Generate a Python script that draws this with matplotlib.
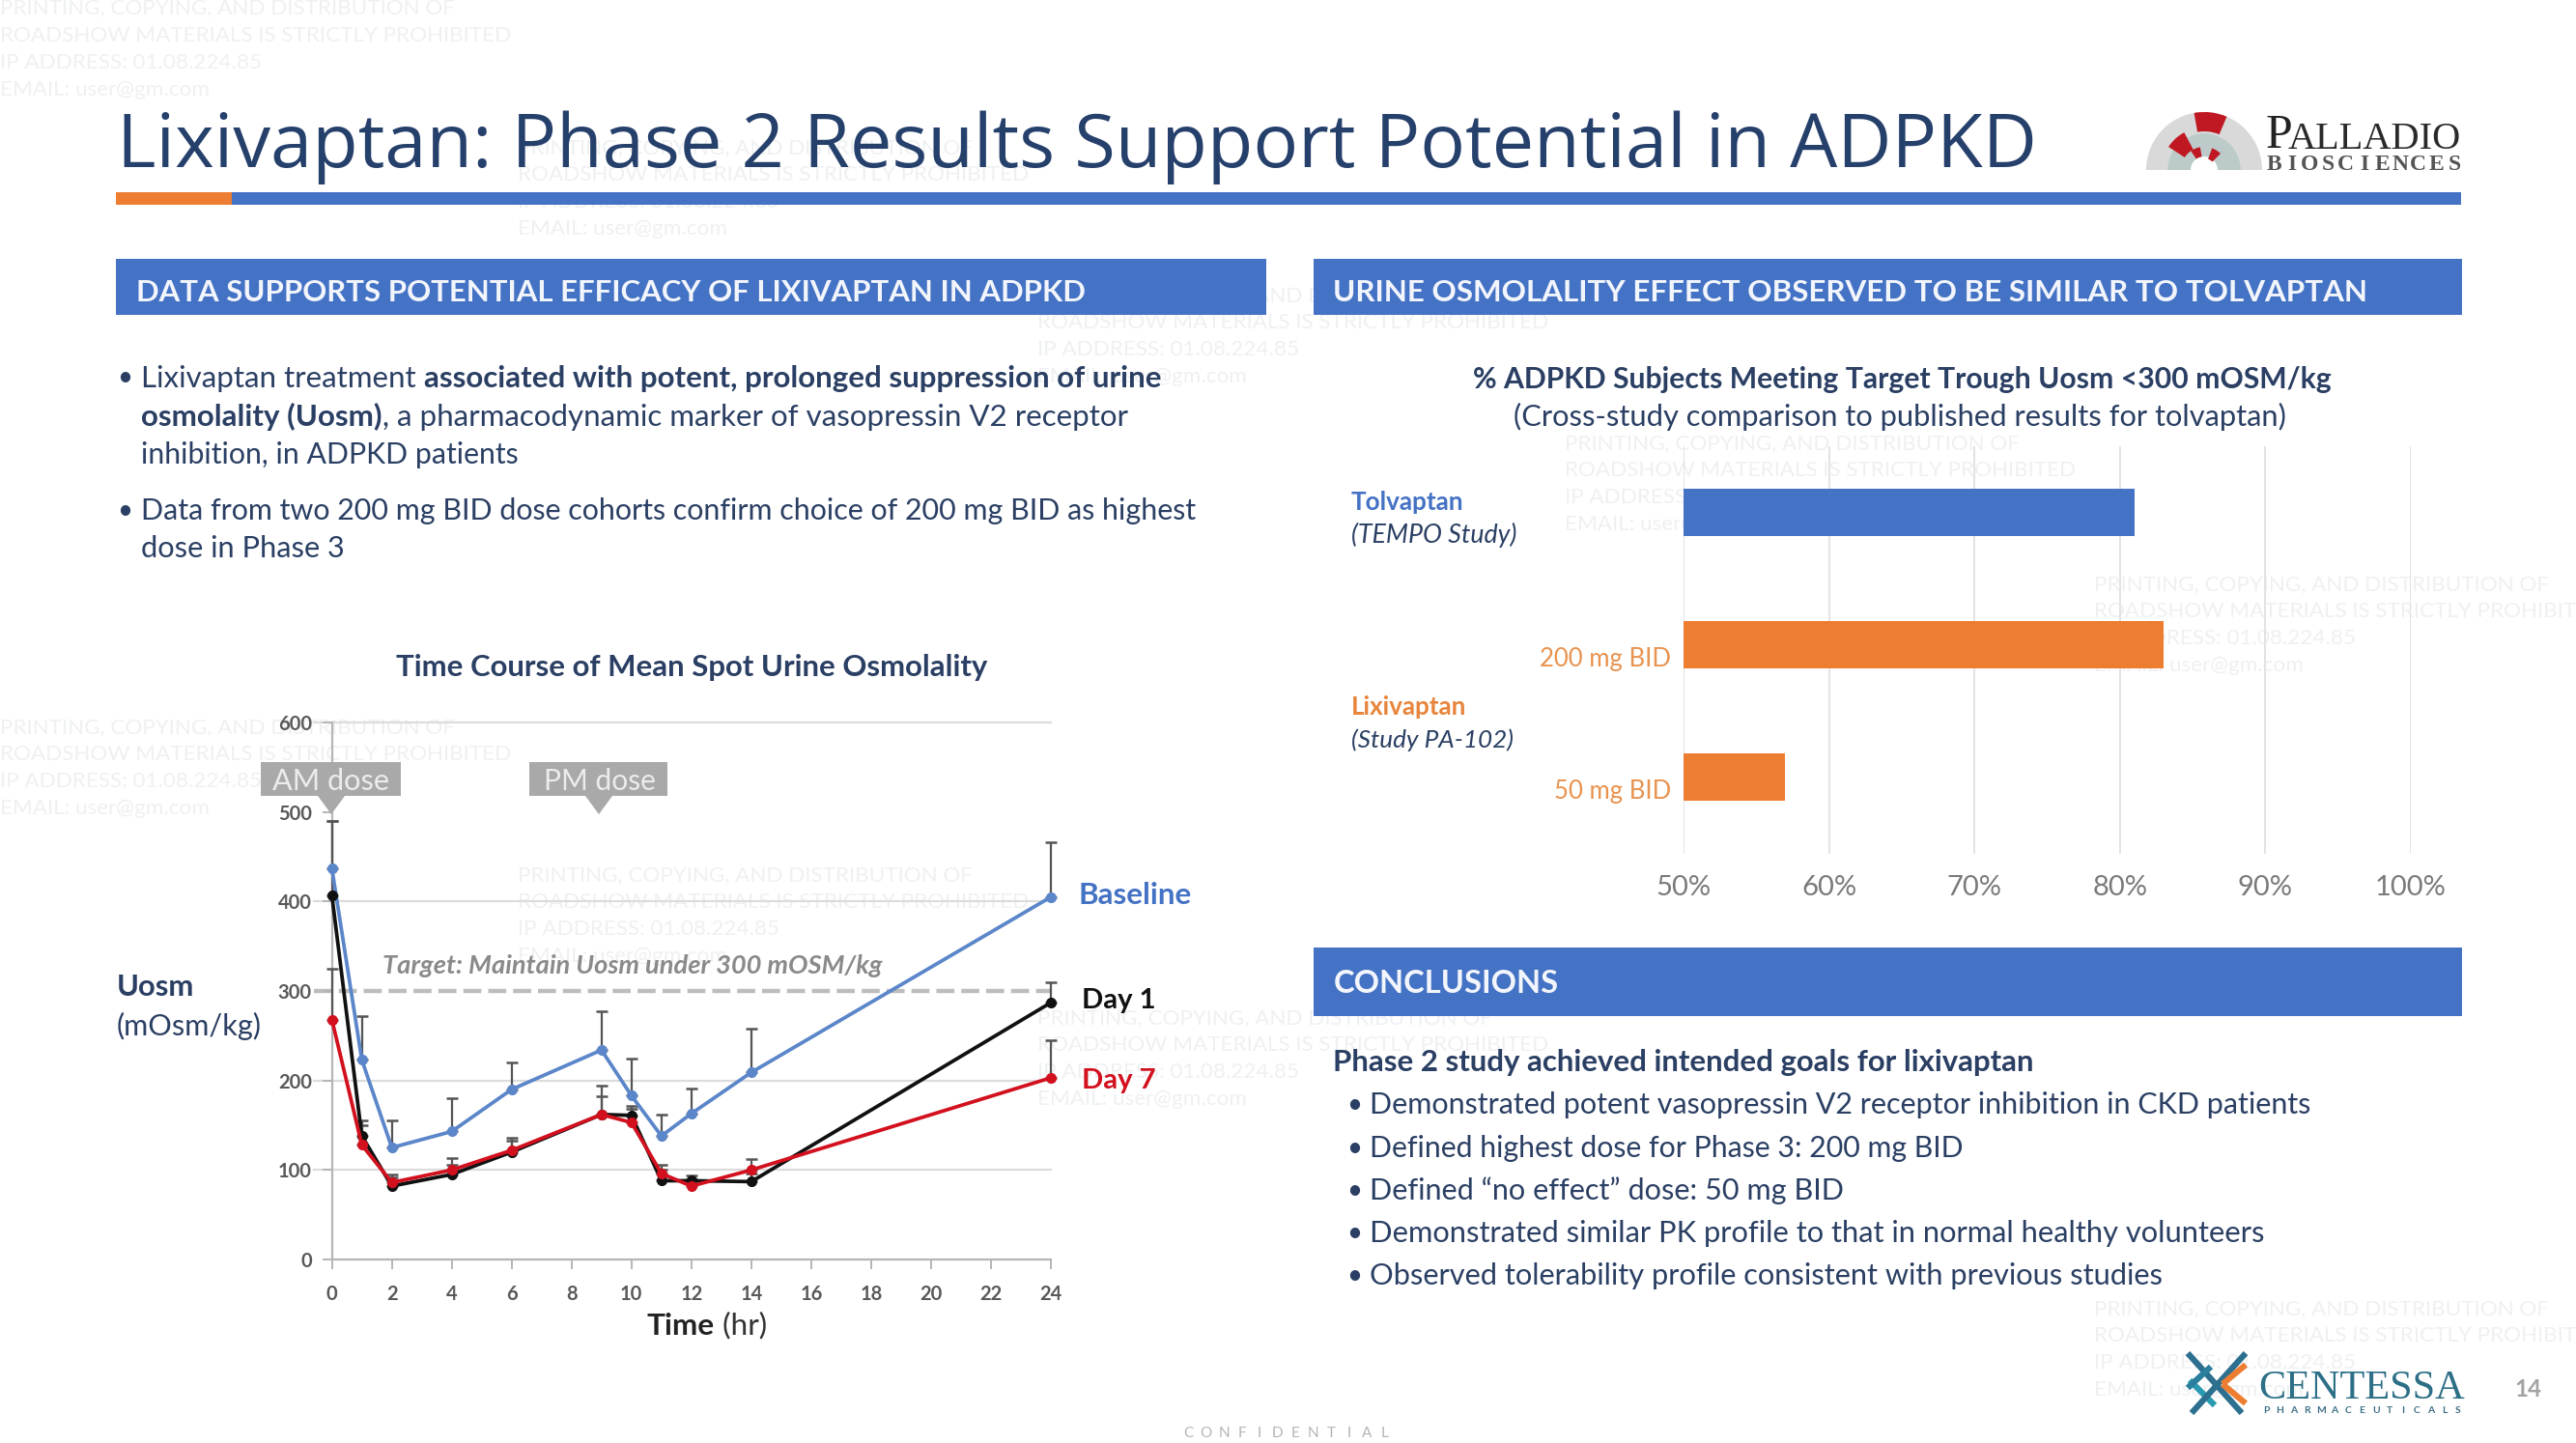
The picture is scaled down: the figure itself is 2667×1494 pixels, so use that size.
import matplotlib
matplotlib.use('Agg')
import matplotlib.pyplot as plt
from matplotlib.patches import Rectangle, Polygon, Wedge
from matplotlib.transforms import ScaledTranslation

# ---------- data ----------
hours = [0, 1, 2, 4, 6, 9, 10, 11, 12, 14, 24]
baseline = [437, 223, 125, 143, 190, 234, 183, 138, 163, 209, 405]
baseline_upper = [490, 272, 155, 180, 220, 277, 225, 162, 191, 258, 466]
day1 = [407, 138, 82, 95, 120, 162, 161, 88, 88, 87, 287]
day1_upper = [490, 155, 92, 106, 136, 182, 172, 100, 94, 96, 310]
day7 = [268, 128, 86, 100, 122, 162, 153, 96, 82, 100, 203]
day7_upper = [325, 150, 95, 113, 133, 194, 168, 106, 90, 112, 245]
hour_ticks = list(range(0, 25, 2))
uosm_ticks = [0, 100, 200, 300, 400, 500, 600]
uosm_grid = [100, 200, 400, 600]
target_uosm = 300

bar_labels = ['', '200 mg BID', '50 mg BID']
bar_values = [81, 83, 57]
pct_ticks = [50, 60, 70, 80, 90, 100]

W, H = 2667, 1494
NAVY = '#2a3f63'
BLUE = '#4472c4'
ORANGE = '#ed7d31'
RED = '#d2101e'
BODY = 'Lato'

fig = plt.figure(figsize=(W / 100, H / 100), dpi=100, facecolor='white')
bg = fig.add_axes([0, 0, 1, 1], zorder=0)
bg.set_xlim(0, W)
bg.set_ylim(H, 0)
bg.axis('off')
top = fig.add_axes([0, 0, 1, 1], zorder=3)
top.set_xlim(0, W)
top.set_ylim(H, 0)
top.axis('off')
renderer = fig.canvas.get_renderer()


def adv(s, **kw):
    t = bg.text(0, 0, s + '.', **kw)
    a = t.get_window_extent(renderer).width
    t.set_text('.')
    b = t.get_window_extent(renderer).width
    t.remove()
    return a - b


def line(x, y, runs, x_end=None, size=20, color=NAVY, family=BODY, ax=bg):
    """Draw text runs (text, weight, style[, colour]); y is the vertical middle of the letters."""
    runs = [r if len(r) == 4 else (r[0], r[1], r[2], color) for r in runs]
    if x_end is not None:
        total = sum(adv(r[0], fontsize=size, fontweight=r[1], fontstyle=r[2], family=family) for r in runs)
        size = size * (x_end - x) / total
    base = y + 0.36 * size * 100 / 72
    cur = x
    for s, w, st, c in runs:
        ax.text(cur, base, s, fontsize=size, fontweight=w, fontstyle=st, color=c, family=family,
                va='baseline', ha='left')
        cur += adv(s, fontsize=size, fontweight=w, fontstyle=st, family=family)
    return size


def P(v):
    return v * 1.7


# ---------- watermarks ----------
wm_lines = ['PRINTING, COPYING, AND DISTRIBUTION OF',
            'ROADSHOW MATERIALS IS STRICTLY PROHIBITED',
            'IP ADDRESS: 01.08.224.85',
            'EMAIL: user@gm.com']
for wx, wy in [(0, 5), (315, 90), (0, 443), (315, 533), (953, 270), (1275, 356), (1275, 797), (632, 180), (632, 620)]:
    for i, s in enumerate(wm_lines):
        bg.text(P(wx), P(wy + i * 16.5), s, fontsize=16.2, color='#eff0f2', family='Lato', va='center', ha='left',
                zorder=0.5)

# ---------- title and headers ----------
line(P(71), 145, [('Lixivaptan: Phase 2 Results Support Potential in ADPKD', 'normal', 'normal')],
     x_end=2108, size=56, color='#26406c', family='Open Sans')
bg.add_patch(Rectangle((120, 199), 120, 13, color=ORANGE, lw=0))
bg.add_patch(Rectangle((240, 199), 2308, 13, color=BLUE, lw=0))
bg.add_patch(Rectangle((120, 268), P(771) - 120, 58, color=BLUE, lw=0))
bg.add_patch(Rectangle((P(800), 268), P(1499.5) - P(800), 58, color=BLUE, lw=0))
bg.add_patch(Rectangle((P(800), P(577)), P(1499.5) - P(800), P(42), color=BLUE, lw=0))
line(P(83), P(177), [('DATA SUPPORTS POTENTIAL EFFICACY OF LIXIVAPTAN IN ADPKD', 'bold', 'normal')],
     x_end=P(660), size=24, color='#f2f5fb')
line(P(812), P(177), [('URINE OSMOLALITY EFFECT OBSERVED TO BE SIMILAR TO TOLVAPTAN', 'bold', 'normal')],
     x_end=P(1442), size=24, color='#f2f5fb')
line(P(812), P(598), [('CONCLUSIONS', 'bold', 'normal')], x_end=P(949), size=24, color='#f2f5fb')

# ---------- left text ----------
for by in (229, 310):
    line(P(71.5), P(by), [('•', 'normal', 'normal')], size=20)
body_runs = [
    (229, [('Lixivaptan treatment ', 'normal', 'normal'), ('associated with potent, prolonged suppression of urine', 'bold', 'normal')], 708),
    (253, [('osmolality (Uosm)', 'bold', 'normal'), (', a pharmacodynamic marker of vasopressin V2 receptor', 'normal', 'normal')], 686),
    (276, [('inhibition, in ADPKD patients', 'normal', 'normal')], 316),
    (310, [('Data from two 200 mg BID dose cohorts confirm choice of 200 mg BID as highest', 'normal', 'normal')], 730),
    (333, [('dose in Phase 3', 'normal', 'normal')], 210),
]
for by, runs, xe in body_runs:
    line(P(86), P(by), runs, x_end=P(xe), size=20)

# ---------- conclusions ----------
line(P(812), P(646), [('Phase 2 study achieved intended goals for lixivaptan', 'bold', 'normal')], x_end=P(1238), size=20)
concl = [(672, 'Demonstrated potent vasopressin V2 receptor inhibition in CKD patients', 1410),
         (698, 'Defined highest dose for Phase 3: 200 mg BID', 1197),
         (724, 'Defined “no effect” dose: 50 mg BID', 1124),
         (750, 'Demonstrated similar PK profile to that in normal healthy volunteers', 1380),
         (776, 'Observed tolerability profile consistent with previous studies', 1318)]
for by, s, xe in concl:
    line(P(820), P(by), [('•', 'normal', 'normal')], size=20)
    line(P(834), P(by), [(s, 'normal', 'normal')], x_end=P(xe), size=20)

# ---------- time course chart ----------
ax = fig.add_axes([343.6 / W, 1 - 1304 / H, (1088 - 343.6) / W, (1304 - 748) / H], zorder=2)
ax.patch.set_alpha(0)
ax.set_xlim(0, 24)
ax.set_ylim(0, 600)
for s in ('top', 'right'):
    ax.spines[s].set_visible(False)
for s in ('left', 'bottom'):
    ax.spines[s].set_color('#b5b5b5')
    ax.spines[s].set_linewidth(1.6)
for g in uosm_grid:
    ax.plot([-0.6, 24], [g, g], color='#dcdcdc', lw=1.6, clip_on=False, zorder=1)
ax.plot([-0.6, 24], [target_uosm, target_uosm], color='#bdbdbd', lw=3.2, dashes=(4.2, 1.6), clip_on=False, zorder=1)
ax.set_xticks(hour_ticks)
ax.set_yticks(uosm_ticks)
ax.tick_params(axis='both', length=7, width=1.4, color='#b5b5b5', labelcolor='#595959', labelsize=14.5, pad=12)
ax.tick_params(axis='y', pad=8)
for lab in ax.get_xticklabels() + ax.get_yticklabels():
    lab.set_family(BODY)
    lab.set_fontweight('bold')
for vals, upper, col in [(baseline, baseline_upper, '#5b86c9'), (day1, day1_upper, '#111111'), (day7, day7_upper, RED)]:
    yerr = [[0] * len(vals), [u - v for u, v in zip(upper, vals)]]
    ax.errorbar(hours, vals, yerr=yerr, color=col, lw=2.7, marker='o', ms=7, ecolor='#555555', elinewidth=1.6,
                capsize=4, capthick=1.8, clip_on=False, zorder=4)

line(P(241), P(405), [('Time Course of Mean Spot Urine Osmolality', 'bold', 'normal')], x_end=P(600), size=19)
line(P(233), P(587), [('Target: Maintain Uosm under 300 mOSM/kg', 'bold', 'italic')], x_end=P(537), size=16, color='#8a8a8a')
line(P(71), P(600), [('Uosm', 'bold', 'normal')], x_end=P(118), size=20)
line(P(71), P(624), [('(mOsm/kg)', 'normal', 'normal')], x_end=P(159), size=20)
line(P(394), P(806), [('Time', 'bold', 'normal', '#222222'), (' (hr)', 'normal', 'normal', '#333333')], x_end=P(467), size=20)
line(P(657), P(544), [('Baseline', 'bold', 'normal')], x_end=P(726), size=20, color=BLUE)
line(P(659), P(608), [('Day 1', 'bold', 'normal')], x_end=P(704), size=20, color='#111111')
line(P(659), P(657), [('Day 7', 'bold', 'normal')], x_end=P(704), size=20, color=RED)

for x0, x1, tip in [(270, 415, 343), (548, 691, 620)]:
    top.add_patch(Rectangle((x0, 789), x1 - x0, 35, color='#a9a9a9', lw=0))
    top.add_patch(Polygon([(tip - 14, 824), (tip + 14, 824), (tip, 843)], color='#a9a9a9', lw=0))
line(282, 807, [('AM dose', 'normal', 'normal')], x_end=403, size=20, color='#ececec', ax=top)
line(563, 807, [('PM dose', 'normal', 'normal')], x_end=679, size=20, color='#ececec', ax=top)

# ---------- bar chart ----------
ax2 = fig.add_axes([1743 / W, 1 - 884 / H, (2496 - 1743) / W, (884 - 462) / H], zorder=2)
ax2.patch.set_alpha(0)
ax2.set_xlim(50, 100)
ax2.set_ylim(2.58, -0.5)
bar_colors = [BLUE, ORANGE, ORANGE]
ax2.barh(range(3), bar_values, height=0.36, color=bar_colors, zorder=3)
ax2.grid(axis='x', color='#e3e3e3', lw=1.4, zorder=0)
for s in ax2.spines.values():
    s.set_visible(False)
ax2.set_xticks(pct_ticks)
ax2.set_xticklabels([f'{p}%' for p in pct_ticks], family=BODY, fontsize=21, color='#7a7a7a')
ax2.set_yticks(range(3))
ax2.set_yticklabels(bar_labels, family=BODY, fontsize=18.5, color='#e8934f')
ax2.tick_params(axis='both', length=0)
ax2.tick_params(axis='x', pad=16)
ax2.tick_params(axis='y', pad=9)
down = ScaledTranslation(0, -12 / 100, fig.dpi_scale_trans)
for lab in ax2.get_yticklabels():
    lab.set_transform(lab.get_transform() + down)

line(P(897), P(230), [('% ADPKD Subjects Meeting Target Trough Uosm <300 mOSM/kg', 'bold', 'normal')], x_end=P(1420), size=20)
line(P(922), P(253), [('(Cross-study comparison to published results for tolvaptan)', 'normal', 'normal')], x_end=P(1393), size=20)
line(P(823), P(305), [('Tolvaptan', 'bold', 'normal')], x_end=P(892), size=17, color=BLUE)
line(P(823), P(325), [('(TEMPO Study)', 'normal', 'italic')], x_end=P(924), size=17)
line(P(823), P(430), [('Lixivaptan', 'bold', 'normal')], x_end=P(893), size=17, color='#e8843c')
line(P(823), P(450), [('(Study PA-102)', 'normal', 'italic')], x_end=P(922), size=17)

# ---------- Palladio logo (y axis points down, so the upper half is 180-360 degrees) ----------
cx, cy = 2282, 176
bg.add_patch(Wedge((cx, cy), 60, 180, 360, width=22, color='#d9d9d9', lw=0))
bg.add_patch(Wedge((cx, cy), 38, 180, 360, width=24, color='#bccaca', lw=0))
for a1, a2, r, w in [(-100, -67, 60, 20), (-147, -118, 44, 20), (-70, -45, 24, 12), (-125, -100, 24, 10)]:
    bg.add_patch(Wedge((cx, cy), r, a1, a2, width=w, color='#c01822', lw=0))
line(2346, 135, [('P', 'normal', 'normal')], size=36, color='#222222', family='Liberation Serif')
line(2369, 139, [('ALLADIO', 'normal', 'normal')], x_end=2548, size=28, color='#2a2a2a', family='Liberation Serif')
bio = 'BIOSCIENCES'
for i, ch in enumerate(bio):
    bg.text(2354 + i * 18.7, 176, ch, fontsize=17, fontweight='bold', color='#555555', family='Liberation Serif',
            va='baseline', ha='center')

# ---------- Centessa logo ----------
lx, ly = 2295, 1433
for (dx0, dy0, dx1, dy1, c) in [(-30, -32, 26, 30, '#2c6f8f'), (-28, -4, -2, 22, '#2a9ab0'), (-30, 4, -6, -18, '#2a7f9f'),
                                (30, -32, -26, 30, '#2c6f8f'), (6, 0, 30, -20, '#ed7d31'), (6, 0, 30, 20, '#ed7d31')]:
    bg.plot([lx + dx0, lx + dx1], [ly + dy0, ly + dy1], color=c, lw=4.5, solid_capstyle='butt')
line(2338, 1433, [('CENTESSA', 'normal', 'normal')], x_end=2552, size=36, color='#2c6f86', family='Liberation Serif')
pharma = 'PHARMACEUTICALS'
for i, ch in enumerate(pharma):
    bg.text(2346 + i * 14.2, 1463, ch, fontsize=7.5, fontweight='bold', color='#3d6f86', family='Lato',
            va='baseline', ha='center')
line(2603, 1437, [('14', 'bold', 'normal')], x_end=2631, size=16, color='#a3a3a3', family='Lato')
conf = 'CONFIDENTIAL'
for i, ch in enumerate(conf):
    bg.text(1230 + i * 18.5, 1484, ch, fontsize=11, color='#b5b5b5', family='Lato', va='center', ha='center')

fig.savefig('out.png', dpi=100, facecolor='white')
